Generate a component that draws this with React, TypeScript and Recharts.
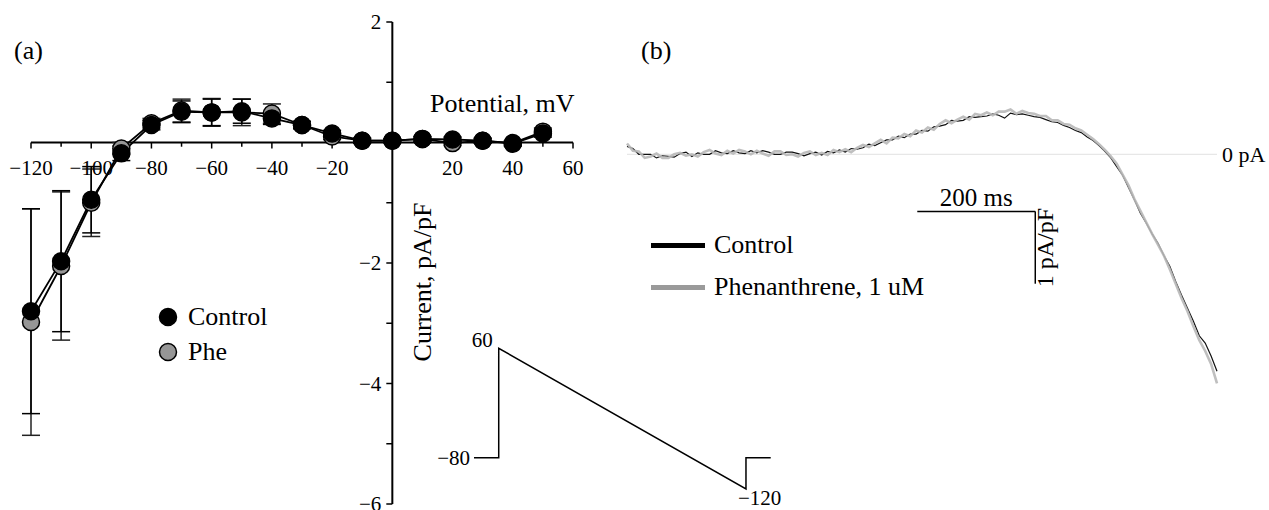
import React from "react";
import {
  ErrorBar,
  LabelList,
  Legend,
  Line,
  LineChart,
  ReferenceLine,
  XAxis,
  YAxis,
} from "recharts";

const FONT = '"Liberation Serif", "Times New Roman", serif';
const MINUS = "\u2212";

// (a) current-voltage relation
const potentials = [-120, -110, -100, -90, -80, -70, -60, -50, -40, -30, -20, -10, 0, 10, 20, 30, 40, 50];
const controlCurrent = [-2.8, -1.97, -0.95, -0.18, 0.29, 0.51, 0.5, 0.52, 0.4, 0.29, 0.15, 0.03, 0.03, 0.06, 0.05, 0.03, -0.02, 0.15];
const controlSem = [1.7, 1.17, 0.55, 0.12, 0.08, 0.18, 0.22, 0.2, 0.1, 0.06, 0.05, 0.04, 0.03, 0.04, 0.04, 0.04, 0.04, 0.06];
const pheCurrent = [-2.98, -2.05, -1.0, -0.1, 0.32, 0.53, 0.5, 0.5, 0.48, 0.29, 0.1, 0.03, 0.03, 0.06, -0.01, 0.03, -0.01, 0.18];
const pheSem = [1.88, 1.23, 0.56, 0.1, 0.08, 0.19, 0.23, 0.22, 0.16, 0.06, 0.05, 0.04, 0.03, 0.04, 0.04, 0.04, 0.04, 0.06];

const xTicks = [-120, -110, -100, -90, -80, -70, -60, -50, -40, -30, -20, -10, 10, 20, 30, 40, 50, 60];
const xLabels = [-120, -100, -80, -60, -40, -20, 20, 40, 60];
const yTicks = [2, 1, -1, -2, -3, -4, -5, -6];
const yLabels = [2, -2, -4, -6];

// (b) ramp currents, one sample every 10 ms
const rampStepMs = 10;
const rampControl = [
  0.11, 0.08, 0.0, 0.0, 0.0, -0.05, -0.02, -0.03, -0.04, 0.01,
  0.03, -0.03, 0.02, 0.0, 0.0, 0.05, 0.02, 0.01, 0.05, 0.02,
  0.01, 0.05, 0.02, 0.05, 0.03, 0.0, 0.0, 0.03, 0.03, 0.01,
  -0.02, 0.01, 0.03, -0.01, 0.04, 0.02, 0.06, 0.03, 0.08, 0.07,
  0.09, 0.14, 0.12, 0.16, 0.2, 0.2, 0.25, 0.23, 0.28, 0.28,
  0.33, 0.32, 0.38, 0.39, 0.41, 0.47, 0.46, 0.47, 0.52, 0.51,
  0.52, 0.53, 0.56, 0.54, 0.5, 0.57, 0.55, 0.56, 0.54, 0.52,
  0.51, 0.48, 0.45, 0.44, 0.4, 0.37, 0.33, 0.3, 0.24, 0.19,
  0.12, 0.04, -0.05, -0.17, -0.29, -0.46, -0.63, -0.81, -0.95, -1.1,
  -1.23, -1.4, -1.55, -1.76, -1.95, -2.13, -2.31, -2.51, -2.61, -2.79,
  -3.0,
];
const rampPhe = [
  0.15, 0.05, 0.04, -0.05, -0.03, 0.01, -0.05, -0.05, 0.0, 0.02,
  -0.02, 0.0, -0.03, 0.03, 0.06, 0.01, -0.01, 0.05, 0.01, 0.06,
  0.04, 0.0, 0.05, 0.01, -0.02, 0.04, 0.04, -0.01, 0.0, -0.03,
  0.02, 0.04, -0.01, 0.02, -0.01, 0.06, 0.03, 0.07, 0.03, 0.09,
  0.13, 0.1, 0.15, 0.2, 0.15, 0.23, 0.22, 0.28, 0.25, 0.33,
  0.3, 0.37, 0.34, 0.42, 0.47, 0.43, 0.48, 0.52, 0.48, 0.56,
  0.54, 0.58, 0.54, 0.59, 0.59, 0.62, 0.56, 0.6, 0.57, 0.56,
  0.53, 0.53, 0.47, 0.47, 0.42, 0.41, 0.36, 0.33, 0.27, 0.21,
  0.14, 0.06, -0.03, -0.13, -0.28, -0.43, -0.62, -0.78, -0.94, -1.1,
  -1.25, -1.4, -1.59, -1.79, -1.99, -2.17, -2.38, -2.57, -2.72, -2.9,
  -3.17,
];

// scale bars of panel (b)
const barStartMs = 492;
const barLengthMs = 200;
const barLevel = -0.79;
const barHeight = 1;

// voltage protocol inset
const protocolTime = [0, 100, 100, 1100, 1100, 1200];
const protocolVoltage = [-80, -80, 60, -120, -80, -80];
const protocolTags = [`${MINUS}80`, "", "60", `${MINUS}120`, "", ""];

const fmt = (v: number) => (v < 0 ? MINUS + Math.abs(v) : String(v));

const ivRows = potentials.map((v, i) => ({
  v,
  control: controlCurrent[i],
  controlErr: controlSem[i],
  phe: pheCurrent[i],
  pheErr: pheSem[i],
}));

const rampRows = rampControl.map((c, i) => ({
  t: i * rampStepMs,
  control: c,
  phe: rampPhe[i],
}));

const protocolRows = protocolTime.map((t, i) => ({
  t,
  mv: protocolVoltage[i],
  tag: protocolTags[i],
}));

const dotFill: Record<string, string> = { control: "#000", phe: "#969696" };
const traceSwatch: Record<string, string> = { control: "#000", phe: "#9a9a9a" };

function Caption(props: { left: number; baseline: number; size: number; children: React.ReactNode }) {
  return (
    <div
      style={{
        position: "absolute",
        left: props.left,
        top: props.baseline - 0.8375 * props.size,
        fontFamily: FONT,
        fontSize: props.size,
        lineHeight: 1,
        whiteSpace: "nowrap",
      }}
    >
      {props.children}
    </div>
  );
}

function IvLegend(props: any) {
  const items = [...(props.payload || [])].sort(
    (a: any, b: any) => (a.dataKey === "control" ? -1 : 1) - (b.dataKey === "control" ? -1 : 1)
  );
  return (
    <div style={{ fontFamily: FONT }}>
      {items.map((it: any) => (
        <div key={it.dataKey} style={{ display: "flex", alignItems: "center", height: 35 }}>
          <svg width={20} height={20}>
            <circle cx={10} cy={10} r={8.5} fill={dotFill[it.dataKey]} stroke="#000" strokeWidth={1.5} />
          </svg>
          <span style={{ marginLeft: 10, fontFamily: FONT, fontSize: 26, lineHeight: 1 }}>{it.value}</span>
        </div>
      ))}
    </div>
  );
}

function RampLegend(props: any) {
  return (
    <div style={{ fontFamily: FONT }}>
      {(props.payload || []).map((it: any) => (
        <div key={it.dataKey} style={{ display: "flex", alignItems: "center", height: 42 }}>
          <div style={{ width: 54, height: 5, background: traceSwatch[it.dataKey] }} />
          <span style={{ marginLeft: 9, fontFamily: FONT, fontSize: 26, lineHeight: 1 }}>{it.value}</span>
        </div>
      ))}
    </div>
  );
}

function ScaleBarLabel(props: any) {
  const { x, y, height } = props.viewBox;
  const cx = x + 18;
  const cy = y + height / 2;
  return (
    <text
      transform={`translate(${cx}, ${cy}) rotate(-90)`}
      textAnchor="middle"
      fontFamily={FONT}
      fontSize={24}
      fill="#000"
    >
      1 pA/pF
    </text>
  );
}

function ProtocolTag(props: any) {
  const { x, y, value, index } = props;
  if (!value) return null;
  let dx = -6;
  let dy = -1;
  let anchor = "end";
  if (index === 0) {
    dx = -4;
    dy = 7;
  } else if (index === 3) {
    dx = -8;
    dy = 16;
    anchor = "start";
  }
  return (
    <text x={x + dx} y={y + dy} textAnchor={anchor} fontFamily={FONT} fontSize={21} fill="#000">
      {value}
    </text>
  );
}

const tickLabel = (v: number, position: string, offset: number) => ({
  value: fmt(v),
  position,
  offset,
  fill: "#000",
  fontSize: 21,
  fontFamily: FONT,
});

export default function App() {
  return (
    <div
      style={{
        position: "absolute",
        left: 0,
        top: 0,
        width: 1269,
        height: 510,
        background: "#fff",
        fontFamily: FONT,
      }}
    >
      {/* (a) */}
      <div style={{ position: "absolute", left: 0, top: 0 }}>
        <LineChart width={600} height={510} data={ivRows} margin={{ top: 22, right: 27, bottom: 6, left: 31 }}>
          <XAxis type="number" dataKey="v" domain={[-120, 60]} hide />
          <YAxis type="number" domain={[-6, 2]} hide />
          <ReferenceLine y={0} stroke="#000" strokeWidth={2} />
          <ReferenceLine x={0} stroke="#000" strokeWidth={2} />
          {xTicks.map((v) => (
            <ReferenceLine
              key={`xt${v}`}
              segment={[
                { x: v, y: 0 },
                { x: v, y: v % 20 === 0 ? -0.1 : -0.07 },
              ]}
              stroke="#000"
              strokeWidth={1.5}
              label={xLabels.includes(v) ? tickLabel(v, "bottom", 12) : undefined}
            />
          ))}
          {yTicks.map((v) => (
            <ReferenceLine
              key={`yt${v}`}
              segment={[
                { x: -2, y: v },
                { x: 0, y: v },
              ]}
              stroke="#000"
              strokeWidth={1.5}
              label={yLabels.includes(v) ? tickLabel(v, "left", 5) : undefined}
            />
          ))}
          <Line
            dataKey="phe"
            name="Phe"
            type="linear"
            stroke="#000"
            strokeWidth={1.8}
            dot={{ r: 8.5, fill: dotFill.phe, stroke: "#000", strokeWidth: 1.5 }}
            activeDot={false}
            isAnimationActive={false}
          >
            <ErrorBar dataKey="pheErr" direction="y" width={9} stroke="#222" strokeWidth={1.5} />
          </Line>
          <Line
            dataKey="control"
            name="Control"
            type="linear"
            stroke="#000"
            strokeWidth={1.8}
            dot={{ r: 8.5, fill: dotFill.control, stroke: "#000", strokeWidth: 1.5 }}
            activeDot={false}
            isAnimationActive={false}
          >
            <ErrorBar dataKey="controlErr" direction="y" width={9} stroke="#000" strokeWidth={1.5} />
          </Line>
          <Legend
            layout="vertical"
            align="center"
            verticalAlign="middle"
            content={IvLegend}
            wrapperStyle={{ left: 158, top: 299.5, width: "auto", height: "auto" }}
          />
        </LineChart>
      </div>

      {/* voltage protocol inset */}
      <div style={{ position: "absolute", left: 420, top: 320 }}>
        <LineChart width={380} height={190} data={protocolRows} margin={{ top: 28.3, right: 29.3, bottom: 21, left: 54 }}>
          <XAxis type="number" dataKey="t" domain={[0, 1200]} hide />
          <YAxis type="number" domain={[-120, 60]} hide />
          <Line
            dataKey="mv"
            type="linear"
            stroke="#000"
            strokeWidth={1.5}
            dot={false}
            activeDot={false}
            isAnimationActive={false}
          >
            <LabelList dataKey="tag" content={ProtocolTag} />
          </Line>
        </LineChart>
      </div>

      {/* (b) */}
      <div style={{ position: "absolute", left: 600, top: 0 }}>
        <LineChart width={669} height={510} data={rampRows} margin={{ top: 82, right: 52, bottom: 66.5, left: 27 }}>
          <XAxis type="number" dataKey="t" domain={[0, 1000]} hide />
          <YAxis type="number" domain={[-4, 1]} hide />
          <ReferenceLine
            y={0}
            stroke="#e2e2e2"
            strokeWidth={1}
            label={{ value: "0 pA", position: "right", offset: 5, fill: "#000", fontSize: 22, fontFamily: FONT }}
          />
          <ReferenceLine
            segment={[
              { x: barStartMs, y: barLevel },
              { x: barStartMs + barLengthMs, y: barLevel },
            ]}
            stroke="#000"
            strokeWidth={1.5}
            label={{ value: "200 ms", position: "top", offset: 5, fill: "#000", fontSize: 25, fontFamily: FONT }}
          />
          <ReferenceLine
            segment={[
              { x: barStartMs + barLengthMs, y: barLevel },
              { x: barStartMs + barLengthMs, y: barLevel - barHeight },
            ]}
            stroke="#000"
            strokeWidth={1.5}
            label={ScaleBarLabel}
          />
          <Line
            dataKey="control"
            name="Control"
            type="linear"
            stroke="#111"
            strokeWidth={1.2}
            dot={false}
            activeDot={false}
            isAnimationActive={false}
          />
          <Line
            dataKey="phe"
            name="Phenanthrene, 1 uM"
            type="linear"
            stroke="#b8b8b8"
            strokeWidth={2.6}
            strokeOpacity={0.9}
            dot={false}
            activeDot={false}
            isAnimationActive={false}
          />
          <Legend
            layout="vertical"
            align="center"
            verticalAlign="middle"
            content={RampLegend}
            wrapperStyle={{ left: 51, top: 224, width: "auto", height: "auto" }}
          />
        </LineChart>
      </div>

      <Caption left={14} baseline={60} size={26}>(a)</Caption>
      <Caption left={641} baseline={60} size={26}>(b)</Caption>
      <Caption left={430} baseline={113} size={26}>Potential, mV</Caption>
      <div
        style={{
          position: "absolute",
          left: 423,
          top: 282,
          transform: "translate(-50%, -50%) rotate(-90deg)",
          fontFamily: FONT,
          fontSize: 26,
          lineHeight: 1,
          whiteSpace: "nowrap",
        }}
      >
        Current, pA/pF
      </div>
    </div>
  );
}
